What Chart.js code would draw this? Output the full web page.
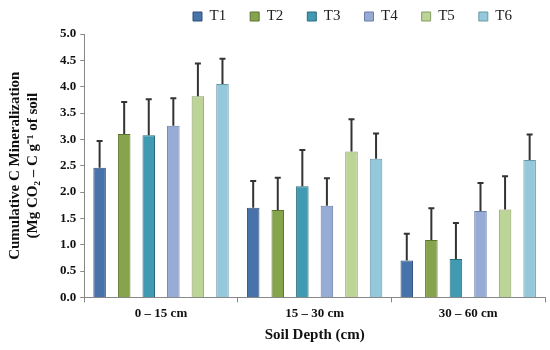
<!DOCTYPE html>
<html>
<head>
<meta charset="utf-8">
<script src="https://cdn.jsdelivr.net/npm/chart.js@4/dist/chart.umd.min.js"></script>
<style>
  html, body { margin: 0; padding: 0; background: #fff; }
  #wrap { width: 550px; height: 350px; }
</style>
</head>
<body>
<div id="wrap"><canvas id="c" width="550" height="350"></canvas></div>
<script>
const categories = ['0 \u2013 15 cm', '15 \u2013 30 cm', '30 \u2013 60 cm'];
const seriesNames = ['T1', 'T2', 'T3', 'T4', 'T5', 'T6'];
const T1 = [2.46, 1.70, 0.70];
const T2 = [3.10, 1.66, 1.09];
const T3 = [3.08, 2.11, 0.73];
const T4 = [3.26, 1.74, 1.64];
const T5 = [3.82, 2.77, 1.67];
const T6 = [4.05, 2.63, 2.61];
const T1err = [0.51, 0.51, 0.51];
const T2err = [0.61, 0.61, 0.60];
const T3err = [0.68, 0.69, 0.68];
const T4err = [0.52, 0.52, 0.53];
const T5err = [0.62, 0.61, 0.63];
const T6err = [0.48, 0.48, 0.48];
const yTicks = [0, 0.5, 1, 1.5, 2, 2.5, 3, 3.5, 4, 4.5, 5];

const values = [T1, T2, T3, T4, T5, T6];
const errors = [T1err, T2err, T3err, T4err, T5err, T6err];
const fills = ['#4872aa', '#86a44c', '#3f9ab2', '#96abd6', '#bdd497', '#95c8da'];
const borders = ['#2f4f78', '#5b7430', '#2a6c7c', '#6a7ea8', '#869c62', '#6a98a8'];

const serif = '"Liberation Serif", "Times New Roman", serif';

const errorBars = {
  id: 'errorBars',
  afterDatasetsDraw(chart) {
    const ctx = chart.ctx;
    const yScale = chart.scales.y;
    ctx.save();
    ctx.strokeStyle = '#333';
    ctx.lineWidth = 2;
    chart.data.datasets.forEach((ds, di) => {
      const meta = chart.getDatasetMeta(di);
      meta.data.forEach((bar, i) => {
        const top = yScale.getPixelForValue(ds.data[i] + errors[di][i]);
        ctx.beginPath();
        ctx.moveTo(bar.x, bar.y);
        ctx.lineTo(bar.x, top);
        ctx.moveTo(bar.x - 3, top);
        ctx.lineTo(bar.x + 3, top);
        ctx.stroke();
      });
    });
    ctx.restore();
  }
};

const legendShift = {
  id: 'legendShift',
  afterLayout(chart) {
    const lg = chart.legend;
    if (!lg) return;
    const pad = lg.options.labels.padding;
    lg.left = 193 - pad;
    lg.right = 550;
    lg.top = 9 - pad;
    lg.bottom = 30;
  }
};

new Chart(document.getElementById('c'), {
  type: 'bar',
  data: {
    labels: categories,
    datasets: seriesNames.map((n, i) => ({
      label: n,
      data: values[i],
      backgroundColor: fills[i],
      borderColor: borders[i],
      borderWidth: 1,
      barPercentage: 0.51,
      categoryPercentage: 0.96
    }))
  },
  options: {
    responsive: false,
    animation: false,
    layout: { padding: { left: 6, right: 5, top: 14, bottom: 6 } },
    plugins: {
      legend: {
        position: 'top',
        align: 'start',
        maxHeight: 20,
        labels: {
          boxWidth: 9,
          boxHeight: 9,
          padding: 24,
          color: '#222',
          font: { family: serif, size: 15 }
        }
      },
      tooltip: { enabled: false }
    },
    scales: {
      x: {
        grid: { offset: true, drawOnChartArea: false, drawTicks: true, tickLength: 5, color: '#888' },
        border: { color: '#888' },
        ticks: { color: '#111', font: { family: serif, size: 13, weight: 'bold' }, padding: 3 },
        title: { display: true, text: 'Soil Depth (cm)', color: '#111', font: { family: serif, size: 15, weight: 'bold' }, padding: { top: 2, bottom: 0 } }
      },
      y: {
        min: 0,
        max: 5,
        afterBuildTicks(scale) { scale.ticks = yTicks.map(v => ({ value: v })); },
        grid: { drawOnChartArea: false, drawTicks: true, tickLength: 4, color: '#888' },
        border: { color: '#888' },
        ticks: { color: '#111', font: { family: serif, size: 13, weight: 'bold' }, padding: 4, callback: v => Number(v).toFixed(1) },
        title: {
          display: true,
          text: ['Cumulative C Mineralization', '(Mg CO\u2082 \u2013 C g\u207B\u00B9 of soil'],
          color: '#111',
          font: { family: serif, size: 15, weight: 'bold' },
          padding: { top: 0, bottom: 14 }
        }
      }
    }
  },
  plugins: [errorBars, legendShift]
});
</script>
</body>
</html>
